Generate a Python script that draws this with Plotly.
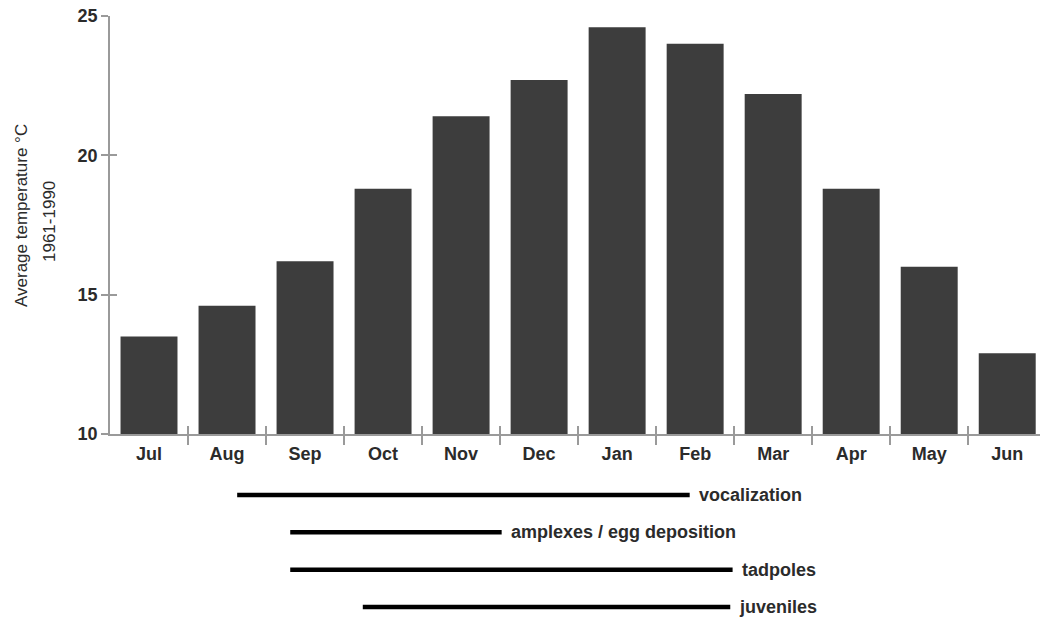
import plotly.graph_objects as go

# Monthly mean temperature, 1961-1990 (°C), July to June
months = ["Jul", "Aug", "Sep", "Oct", "Nov", "Dec",
          "Jan", "Feb", "Mar", "Apr", "May", "Jun"]
temps = [13.5, 14.6, 16.2, 18.8, 21.4, 22.7,
         24.6, 24.0, 22.2, 18.8, 16.0, 12.9]

# Reproductive phases, start and end given in month-index units (0 = Jul)
phases = ["vocalization", "amplexes / egg deposition", "tadpoles", "juveniles"]
phase_start = [1.13, 1.81, 1.81, 2.74]
phase_end = [6.93, 4.52, 7.48, 7.45]

y_ticks = [10, 15, 20, 25]

FONT = "Liberation Sans, Arial, sans-serif"
TEXT = "#2b2b2b"
AXIS = "#9a9a9a"

idx = list(range(len(months)))
bounds = [i + 0.5 for i in idx[:-1]]
x_range = [-0.5, 11.42]

fig = go.Figure()

fig.add_trace(go.Bar(
    x=idx, y=temps, width=0.73,
    marker=dict(color="#3d3d3d", line=dict(width=0)),
    xaxis="x", yaxis="y", showlegend=False, hoverinfo="x+y",
))

# Helper trace so the overlay axes (inside tick halves) are rendered
fig.add_trace(go.Scatter(
    x=[0], y=[10], mode="markers", marker=dict(opacity=0),
    xaxis="x3", yaxis="y3", showlegend=False, hoverinfo="skip",
))

# Phase bars below the chart
for name, s, e, row in zip(phases, phase_start, phase_end, range(len(phases))):
    fig.add_trace(go.Scatter(
        x=[s, e], y=[row, row], mode="lines",
        line=dict(color="#000000", width=4.5),
        xaxis="x2", yaxis="y2", showlegend=False, hoverinfo="skip",
    ))
    fig.add_annotation(
        x=e, y=row, xref="x2", yref="y2", text=name, showarrow=False,
        xanchor="left", yanchor="middle", xshift=7,
        font=dict(family=FONT, size=18, color=TEXT, weight="bold"),
    )

y_domain = [(620 - 434) / 620, (620 - 16) / 620]

fig.update_layout(
    width=1040, height=620,
    margin=dict(l=110, r=0, t=0, b=0, autoexpand=False),
    paper_bgcolor="white", plot_bgcolor="white",
    font=dict(family=FONT, color=TEXT),
    xaxis=dict(
        domain=[0, 1], range=x_range, anchor="y", automargin=False,
        tickmode="array", tickvals=idx, ticktext=months,
        ticks="outside", ticklen=3, tickcolor="rgba(0,0,0,0)",
        tickfont=dict(family=FONT, size=18, color=TEXT, weight="bold"),
        showline=True, linecolor=AXIS, linewidth=1.5,
        showgrid=False, zeroline=False,
        minor=dict(tickmode="array", tickvals=bounds, ticks="outside",
                   ticklen=9, tickcolor=AXIS, tickwidth=1.5, showgrid=False),
    ),
    yaxis=dict(
        domain=y_domain, range=[10, 25], anchor="x", automargin=False,
        tickmode="array", tickvals=y_ticks,
        ticks="outside", ticklen=7, tickcolor=AXIS, tickwidth=1.5,
        tickfont=dict(family=FONT, size=18, color=TEXT, weight="bold"),
        showline=True, linecolor=AXIS, linewidth=1.5,
        showgrid=False, zeroline=False,
    ),
    xaxis3=dict(
        overlaying="x", anchor="y3", range=x_range, automargin=False,
        tickmode="array", tickvals=bounds, ticks="inside", ticklen=8,
        tickcolor=AXIS, tickwidth=1.5, showticklabels=False,
        showline=False, showgrid=False, zeroline=False,
    ),
    yaxis3=dict(
        overlaying="y", anchor="x3", range=[10, 25], automargin=False,
        tickmode="array", tickvals=y_ticks, ticks="inside", ticklen=7,
        tickcolor=AXIS, tickwidth=1.5, showticklabels=False,
        showline=False, showgrid=False, zeroline=False,
    ),
    xaxis2=dict(
        domain=[0, 1], range=x_range, anchor="y2", visible=False,
    ),
    yaxis2=dict(
        domain=[0, 0.25], range=[3.348, -0.804], anchor="x2", visible=False,
    ),
)

# Two-line rotated y-axis title
title_font = dict(family=FONT, size=17, color=TEXT)
fig.add_annotation(
    text="Average temperature °C", xref="paper", yref="paper",
    x=(21 - 110) / 930, y=(620 - 216) / 620, textangle=-90,
    showarrow=False, xanchor="center", yanchor="middle", font=title_font,
)
fig.add_annotation(
    text="1961-1990", xref="paper", yref="paper",
    x=(50 - 110) / 930, y=(620 - 222) / 620, textangle=-90,
    showarrow=False, xanchor="center", yanchor="middle", font=title_font,
)

fig.write_html("out.html")
